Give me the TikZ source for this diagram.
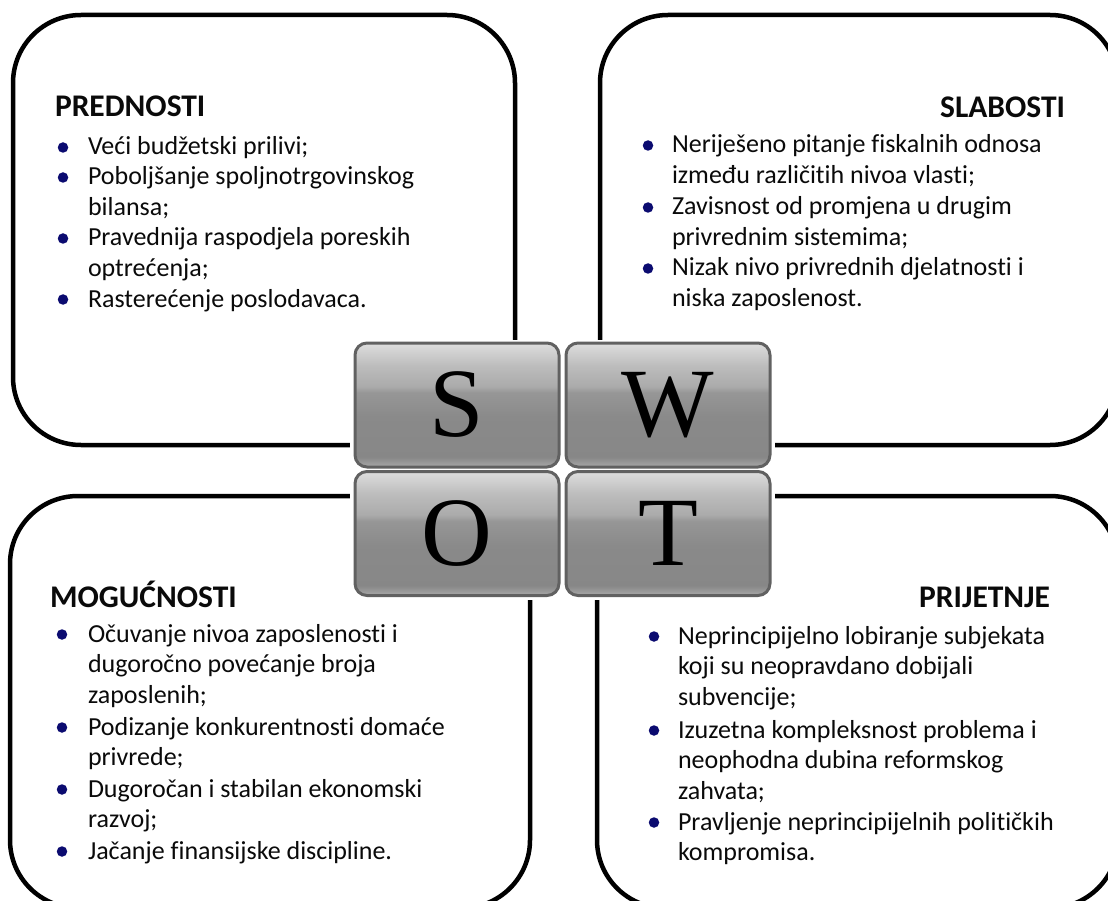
\documentclass[tikz,border=0pt]{standalone}
\usepackage{fontspec}
\setmainfont{Carlito}[Ligatures=NoCommon]
\newfontfamily\tilefont{Liberation Serif}
\definecolor{bulletblue}{HTML}{0B0B70}
\definecolor{tileedge}{HTML}{616161}
\definecolor{textblack}{HTML}{0A0A0A}
\pgfdeclareverticalshading{tileshade}{100bp}{%
  color(0bp)=(black!34); color(25bp)=(black!34); color(29bp)=(black!47);
  color(45bp)=(black!46); color(55bp)=(black!41); color(57.5bp)=(black!33);
  color(66bp)=(black!26); color(75bp)=(black!13); color(100bp)=(black!13)}
\newcommand{\mylines}[1]{\begin{tabular}[t]{@{}l@{}}#1\end{tabular}}
\begin{document}
\begin{tikzpicture}[x=1pt,y=-1pt,
  quad/.style={draw=black, line width=4.5pt, rounded corners=68pt, inner sep=0pt, outer sep=0pt},
  tile/.style={draw=tileedge, line width=3pt, rounded corners=12pt, shading=tileshade,
    minimum width=204pt, minimum height=124pt, inner sep=0pt, outer sep=0pt,
    font=\tilefont\fontsize{98}{98}\selectfont, text=black},
  head/.style={font=\bfseries\fontsize{31.5}{35}\selectfont, inner sep=0pt, outer sep=0pt, text=textblack},
  body/.style={font=\fontsize{26}{30.5}\selectfont, inner sep=0pt, outer sep=0pt, anchor=base west, text=textblack},
  dot/.style={circle, fill=bulletblue, minimum size=10.5pt, inner sep=0pt, outer sep=0pt}]
\useasboundingbox (0,0) rectangle (1108,901);
\clip (0,0) rectangle (1108,901);
\fill[white] (0,0) rectangle (1108,901);

% quadrant boxes
\node[quad, minimum width=502pt, minimum height=430pt] (boxS) at (264,230) {};
\node[quad, minimum width=518pt, minimum height=430pt] (boxW) at (859,230) {};
\node[quad, minimum width=520pt, minimum height=412pt] (boxO) at (270,702) {};
\node[quad, minimum width=521pt, minimum height=412pt] (boxT) at (857.5,702) {};

% white area behind the SWOT tiles
\node[fill=white, minimum width=425pt, minimum height=260pt, inner sep=0pt, outer sep=0pt] (knock) at (562.5,470) {};

% SWOT tiles
\node[tile] (tS) at (457,405) {S};
\node[tile] (tW) at (668,405) {W};
\node[tile] (tO) at (457,533.5) {O};
\node[tile] (tT) at (668,533.5) {T};

% PREDNOSTI
\node[head, anchor=base west] (hS) at (55,117) {PREDNOSTI};
\node[body] (s1) at (88,155) {\mylines{Veći budžetski prilivi;}};
\node[body] (s2) at (88,185) {\mylines{Poboljšanje spoljnotrgovinskog\\bilansa;}};
\node[body] (s3) at (88,246) {\mylines{Pravednija raspodjela poreskih\\optrećenja;}};
\node[body] (s4) at (88,307) {\mylines{Rasterećenje poslodavaca.}};
\node[dot] (ds1) at (63,147.5) {};
\node[dot] (ds2) at (63,177.5) {};
\node[dot] (ds3) at (63,238.5) {};
\node[dot] (ds4) at (63,299.5) {};

% SLABOSTI
\node[head, anchor=base east] (hW) at (1065,118) {SLABOSTI};
\node[body] (w1) at (672,153) {\mylines{Neriješeno pitanje fiskalnih odnosa\\između različitih nivoa vlasti;}};
\node[body] (w2) at (672,215) {\mylines{Zavisnost od promjena u drugim\\privrednim sistemima;}};
\node[body] (w3) at (672,276) {\mylines{Nizak nivo privrednih djelatnosti i\\niska zaposlenost.}};
\node[dot] (dw1) at (648,145.5) {};
\node[dot] (dw2) at (648,207.5) {};
\node[dot] (dw3) at (648,268.5) {};

% MOGUĆNOSTI
\node[head, anchor=base west] (hO) at (50,607) {MOGUĆNOSTI};
\node[body] (o1) at (88,642) {\mylines{Očuvanje nivoa zaposlenosti i\\dugoročno povećanje broja\\zaposlenih;}};
\node[body] (o2) at (88,735) {\mylines{Podizanje konkurentnosti domaće\\privrede;}};
\node[body] (o3) at (88,797) {\mylines{Dugoročan i stabilan ekonomski\\razvoj;}};
\node[body] (o4) at (88,859) {\mylines{Jačanje finansijske discipline.}};
\node[dot] (do1) at (62,634.5) {};
\node[dot] (do2) at (62,727.5) {};
\node[dot] (do3) at (62,789.5) {};
\node[dot] (do4) at (62,851.5) {};

% PRIJETNJE
\node[head, anchor=base east] (hT) at (1050,607) {PRIJETNJE};
\node[body] (t1) at (678,644) {\mylines{Neprincipijelno lobiranje subjekata\\koji su neopravdano dobijali\\subvencije;}};
\node[body] (t2) at (678,738) {\mylines{Izuzetna kompleksnost problema i\\neophodna dubina reformskog\\zahvata;}};
\node[body] (t3) at (678,830) {\mylines{Pravljenje neprincipijelnih političkih\\kompromisa.}};
\node[dot] (dt1) at (654,636.5) {};
\node[dot] (dt2) at (654,730.5) {};
\node[dot] (dt3) at (654,822.5) {};
\end{tikzpicture}
\end{document}
